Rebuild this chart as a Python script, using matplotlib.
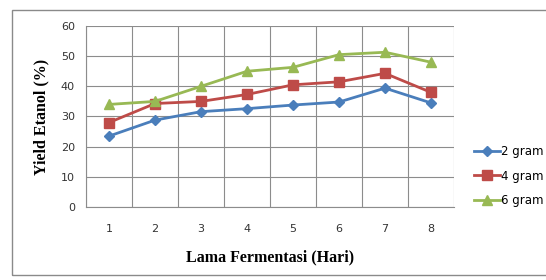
import matplotlib.pyplot as plt
from matplotlib.patches import Rectangle

# data
days = [1, 2, 3, 4, 5, 6, 7, 8]
yield_2g = [23.5, 28.8, 31.6, 32.6, 33.8, 34.8, 39.4, 34.5]
yield_4g = [28.0, 34.3, 35.0, 37.3, 40.5, 41.5, 44.3, 38.0]
yield_6g = [34.0, 35.0, 40.0, 45.0, 46.3, 50.5, 51.3, 48.0]
labels = ['2 gram', '4 gram', '6 gram']

fig = plt.figure(figsize=(5.46, 2.80), dpi=100)
fig.patch.set_facecolor('white')

# outer chart border
fig.patches.append(Rectangle((12/546, 5/280), 0.99, 265/280, transform=fig.transFigure,
                             fill=False, edgecolor='#8a8a8a', linewidth=1))

ax = fig.add_axes([86/546, 73/280, 368/546, 181/280])

ax.plot(days, yield_2g, color='#4A7EBB', marker='D', markersize=5, linewidth=2, label=labels[0])
ax.plot(days, yield_4g, color='#BE4B48', marker='s', markersize=7, linewidth=2, label=labels[1])
ax.plot(days, yield_6g, color='#98B954', marker='^', markersize=7, linewidth=2, label=labels[2])

ax.set_xlim(0.5, 8.5)
ax.set_ylim(0, 60)
ax.set_yticks(range(0, 61, 10))
ax.set_xticks(days)
ax.set_xticks([d + 0.5 for d in range(0, 9)], minor=True)
ax.grid(True, which='minor', axis='x', color='#8c8c8c', linewidth=0.8)
ax.grid(True, which='major', axis='y', color='#8c8c8c', linewidth=0.8)
ax.tick_params(axis='both', which='both', length=0, labelsize=8, colors='#333333')
ax.tick_params(axis='x', pad=12)
ax.tick_params(axis='y', pad=8)
for s in ['top', 'right']:
    ax.spines[s].set_visible(False)
for s in ['left', 'bottom']:
    ax.spines[s].set_color('#8c8c8c')
ax.set_axisbelow(True)

ax.set_xlabel('Lama Fermentasi (Hari)', family='Liberation Serif', fontweight='bold',
              fontsize=11.5, labelpad=11)
ax.set_ylabel('Yield Etanol (%)', family='Liberation Serif', fontweight='bold',
              fontsize=11.5, labelpad=8)

fig.legend(loc='upper left', bbox_to_anchor=(469/546, 140/280), frameon=False,
           fontsize=8.5, handlelength=2.2, handletextpad=0.1, labelspacing=1.0,
           borderaxespad=0)

fig.savefig('out.png', dpi=100, facecolor='white')
